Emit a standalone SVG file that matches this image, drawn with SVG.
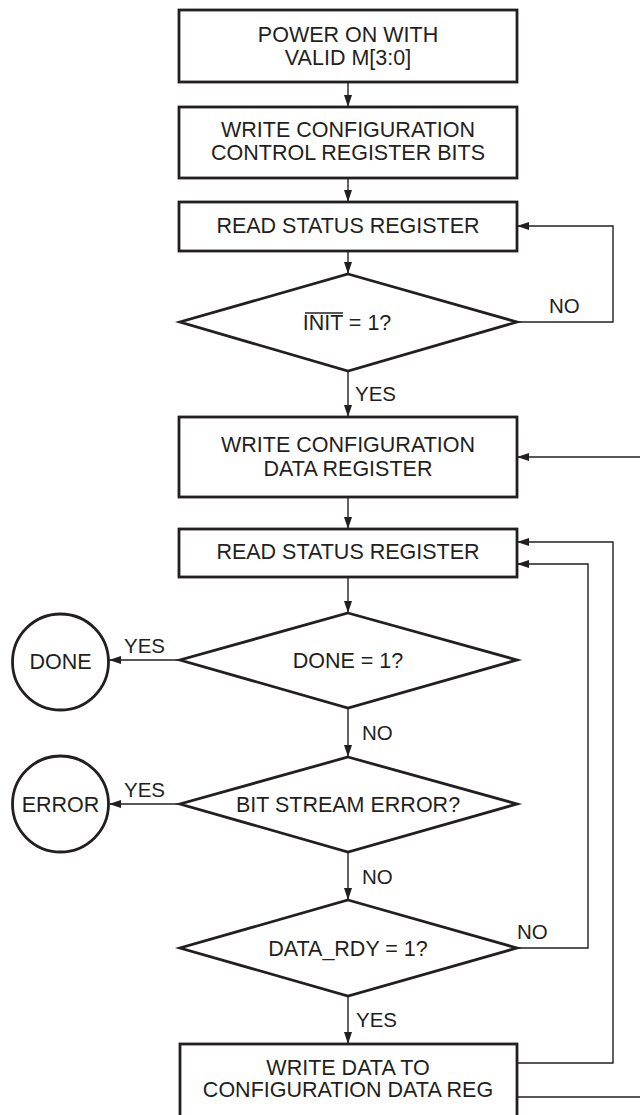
<svg xmlns="http://www.w3.org/2000/svg" width="640" height="1115" viewBox="0 0 640 1115">
<defs>
<marker id="ah" viewBox="0 0 12 8" refX="12" refY="4" markerWidth="12" markerHeight="8" markerUnits="userSpaceOnUse" orient="auto">
<path d="M0,0 L12,4 L0,8 z" fill="#231f20"/>
</marker>
</defs>
<style>
.box{fill:#fff;stroke:#231f20;stroke-width:2.8}
.t{font-family:"Liberation Sans",Arial,sans-serif;font-size:21.5px;fill:#231f20;text-anchor:middle}
.l{font-family:"Liberation Sans",Arial,sans-serif;font-size:20.5px;fill:#231f20}
.c{fill:none;stroke:#231f20;stroke-width:1.4}
</style>
<rect width="640" height="1115" fill="#fff"/>
<g id="connectors">
<line class="c" x1="348" y1="82" x2="348" y2="107" marker-end="url(#ah)"/>
<line class="c" x1="348" y1="178" x2="348" y2="202" marker-end="url(#ah)"/>
<line class="c" x1="348" y1="251" x2="348" y2="274" marker-end="url(#ah)"/>
<line class="c" x1="348" y1="371" x2="348" y2="417" marker-end="url(#ah)"/>
<line class="c" x1="348" y1="497" x2="348" y2="529" marker-end="url(#ah)"/>
<line class="c" x1="348" y1="577" x2="348" y2="613" marker-end="url(#ah)"/>
<line class="c" x1="348" y1="708" x2="348" y2="757" marker-end="url(#ah)"/>
<line class="c" x1="348" y1="852" x2="348" y2="900" marker-end="url(#ah)"/>
<line class="c" x1="348" y1="996" x2="348" y2="1044" marker-end="url(#ah)"/>
<polyline class="c" points="517,322 613,322 613,226 517,226" marker-end="url(#ah)"/>
<line class="c" x1="640" y1="457" x2="517" y2="457" marker-end="url(#ah)"/>
<polyline class="c" points="517,1063 613,1063 613,542 517,542" marker-end="url(#ah)"/>
<polyline class="c" points="517,948 588,948 588,564 517,564" marker-end="url(#ah)"/>
<line class="c" x1="517" y1="1097" x2="640" y2="1097"/>
<line class="c" x1="180" y1="660" x2="109" y2="660" marker-end="url(#ah)"/>
<line class="c" x1="180" y1="804" x2="109" y2="804" marker-end="url(#ah)"/>
<text class="l" x="549" y="313">NO</text>
<text class="l" x="355" y="401">YES</text>
<text class="l" x="124" y="653">YES</text>
<text class="l" x="362" y="740">NO</text>
<text class="l" x="124" y="797">YES</text>
<text class="l" x="362" y="884">NO</text>
<text class="l" x="517" y="939">NO</text>
<text class="l" x="356" y="1027">YES</text>
</g>
<g id="n1"><rect class="box" x="179" y="10" width="338" height="72"/><text class="t" x="348" y="42">POWER ON WITH</text><text class="t" x="348" y="65">VALID M[3:0]</text></g>
<g id="n2"><rect class="box" x="179" y="107" width="338" height="71"/><text class="t" x="348" y="137">WRITE CONFIGURATION</text><text class="t" x="348" y="160">CONTROL REGISTER BITS</text></g>
<g id="n3"><rect class="box" x="179" y="202" width="338" height="49"/><text class="t" x="348" y="233">READ STATUS REGISTER</text></g>
<g id="n4"><polygon class="box" points="348,274 517,322 348,371 180,322"/><text class="t" x="347" y="330">INIT = 1?</text><line x1="305" y1="313" x2="343" y2="313" stroke="#231f20" stroke-width="1.3"/></g>
<g id="n5"><rect class="box" x="179" y="417" width="338" height="80"/><text class="t" x="348" y="452">WRITE CONFIGURATION</text><text class="t" x="348" y="476">DATA REGISTER</text></g>
<g id="n6"><rect class="box" x="179" y="529" width="338" height="48"/><text class="t" x="348" y="559">READ STATUS REGISTER</text></g>
<g id="n7"><polygon class="box" points="348,613 517,660 348,708 180,660"/><text class="t" x="348" y="668">DONE = 1?</text></g>
<g id="n8"><circle class="box" cx="60.5" cy="662" r="48"/><text class="t" x="60.5" y="669">DONE</text></g>
<g id="n9"><polygon class="box" points="348,757 517,804 348,852 180,804"/><text class="t" x="348" y="812">BIT STREAM ERROR?</text></g>
<g id="n10"><circle class="box" cx="60.5" cy="804" r="48"/><text class="t" x="60.5" y="812">ERROR</text></g>
<g id="n11"><polygon class="box" points="348,900 517,948 348,996 180,948"/><text class="t" x="348" y="956">DATA_RDY = 1?</text></g>
<g id="n12"><rect class="box" x="180" y="1044" width="337" height="90"/><text class="t" x="348" y="1075">WRITE DATA TO</text><text class="t" x="348" y="1097">CONFIGURATION DATA REG</text></g>
</svg>
